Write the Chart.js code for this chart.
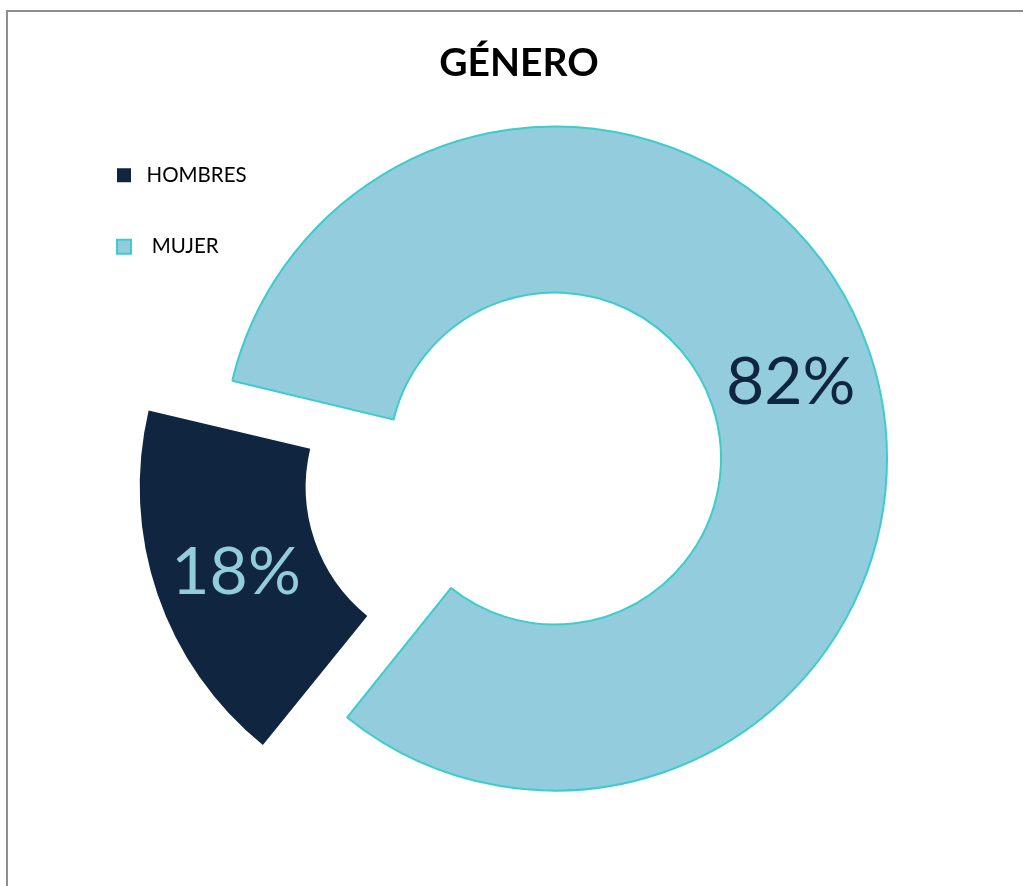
<!DOCTYPE html>
<html>
<head>
<meta charset="utf-8">
<script src="https://cdn.jsdelivr.net/npm/chart.js@4"></script>
<style>
  html, body { margin: 0; padding: 0; background: #ffffff; overflow: hidden; width: 1023px; height: 886px; }
  #frame { position: absolute; left: 6px; top: 10px; width: 1100px; height: 1000px;
           border-left: 2px solid #8e8e8e; border-top: 2px solid #8e8e8e; box-sizing: border-box; }
  #c { position: absolute; left: 0; top: 0; }
</style>
</head>
<body>
<div id="frame"></div>
<canvas id="c" width="1023" height="886"></canvas>
<script>
// ---- data ----
const categories = ['HOMBRES', 'MUJER'];
const legendText = [' HOMBRES', '  MUJER'];
const values = [18, 82];
const titleText = 'GÉNERO';

// ---- styles ----
const fillColors = ['#10253f', '#93cddd'];
const edgeColors = ['#10253f', '#3ccccc'];
const edgeWidths = [0, 2];
const labelColors = ['#93cddd', '#10253f'];
const explode = [352, 0];
const FONT = 'Lato, "Open Sans", "Liberation Sans", sans-serif';

// keep the exploded slice at the same radius as the rest
const radiusFix = {
  id: 'radiusFix',
  beforeDatasetsDraw(chart) {
    chart.data.datasets.forEach((ds, di) => {
      const meta = chart.getDatasetMeta(di);
      const ctrl = meta.controller;
      meta.data.forEach(el => {
        const off = (el.options.offset || 0) / 4;
        const fix = 1 - Math.sin(Math.min(Math.PI, el.circumference || 0));
        const ro = off * fix;
        el.outerRadius = ctrl.outerRadius - ro;
        el.innerRadius = ctrl.innerRadius - ro;
      });
    });
  }
};

// legend takes a narrow slot in the layout, but its text may overflow to the right
const legendOverflow = {
  id: 'legendOverflow',
  afterLayout(chart) {
    const lg = chart.legend;
    if (lg) { lg.right = lg.left + 320; }
  }
};

const pctLabels = {
  id: 'pctLabels',
  afterDatasetsDraw(chart) {
    const ctx = chart.ctx;
    const total = values.reduce((a, b) => a + b, 0);
    chart.data.datasets.forEach((ds, di) => {
      const meta = chart.getDatasetMeta(di);
      const ctrl = meta.controller;
      meta.data.forEach((el, i) => {
        const mid = (el.startAngle + el.endAngle) / 2;
        const off = (el.options.offset || 0) / 4;
        const r = (ctrl.innerRadius + ctrl.outerRadius) / 2;
        const x = el.x + Math.cos(mid) * (off + r);
        const y = el.y + Math.sin(mid) * (off + r);
        ctx.save();
        ctx.font = '66px ' + FONT;
        ctx.fillStyle = labelColors[i];
        ctx.textAlign = 'center';
        ctx.textBaseline = 'middle';
        ctx.fillText(Math.round(ds.data[i] / total * 100) + '%', x, y + 5);
        ctx.restore();
      });
    });
  }
};

new Chart(document.getElementById('c'), {
  type: 'doughnut',
  data: {
    labels: categories,
    datasets: [{
      data: values,
      backgroundColor: fillColors,
      borderColor: edgeColors,
      borderWidth: edgeWidths,
      offset: explode,
      hoverOffset: 0
    }]
  },
  options: {
    responsive: false,
    animation: false,
    events: [],
    rotation: 218.75,
    cutout: '50%',
    radius: 332,
    layout: { padding: { left: 66, right: 51, top: 10, bottom: 83 } },
    plugins: {
      title: {
        display: true,
        text: titleText,
        color: '#000000',
        font: { family: FONT, size: 39, weight: 'bold', lineHeight: 1.2 },
        padding: { top: 30, bottom: 27.2 }
      },
      legend: {
        display: true,
        position: 'left',
        align: 'start',
        fullSize: false,
        maxWidth: 72,
        labels: {
          boxWidth: 14,
          boxHeight: 14,
          padding: 51,
          color: '#000000',
          font: { family: FONT, size: 20.5 },
          generateLabels(chart) {
            const ds = chart.data.datasets[0];
            return chart.data.labels.map((lab, i) => ({
              text: legendText[i],
              fillStyle: ds.backgroundColor[i],
              strokeStyle: ds.borderColor[i],
              lineWidth: ds.borderWidth[i],
              fontColor: '#000000',
              hidden: false,
              index: i
            }));
          }
        }
      },
      tooltip: { enabled: false }
    }
  },
  plugins: [radiusFix, legendOverflow, pctLabels]
});
</script>
</body>
</html>
